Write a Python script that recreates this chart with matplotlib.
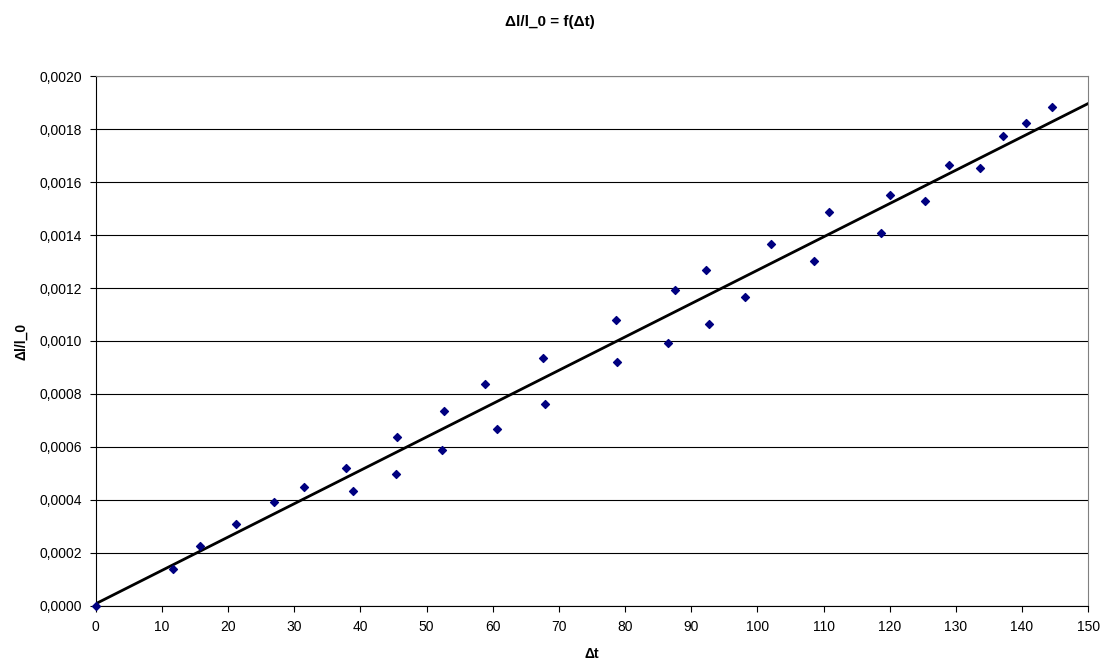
import numpy as np
import matplotlib.pyplot as plt
from matplotlib.ticker import FuncFormatter, MultipleLocator

plt.rcParams['font.family'] = ['Liberation Sans', 'DejaVu Sans']

# Measured points
dt = [0, 11.7, 15.8, 21.2, 26.9, 31.5, 37.8, 38.9, 45.4, 45.6, 52.4, 52.7, 58.9,
      60.7, 67.6, 67.9, 78.6, 78.8, 86.5, 87.6, 92.3, 92.7, 98.1, 102.1, 108.6,
      110.9, 118.7, 120.0, 125.4, 129.0, 133.7, 137.1, 140.6, 144.6]
dl = [0.0, 0.000140, 0.000227, 0.000308, 0.000393, 0.000448, 0.000520, 0.000433,
      0.000498, 0.000637, 0.000587, 0.000736, 0.000836, 0.000669, 0.000936,
      0.000763, 0.001079, 0.000921, 0.000994, 0.001193, 0.001268, 0.001065,
      0.001165, 0.001368, 0.001301, 0.001486, 0.001409, 0.001553, 0.001530,
      0.001665, 0.001652, 0.001773, 0.001824, 0.001883]

# linear trend line
k, b = np.polyfit(dt, dl, 1)
xl = np.array([0, 150])

fig = plt.figure(figsize=(11.07, 6.63), dpi=100)
ax = fig.add_axes([0.0865, 0.0864, 0.8965, 0.7986])

ax.plot(xl, k * xl + b, color='black', lw=2, zorder=2)
ax.scatter(dt, dl, marker='D', s=16, color='#000080', zorder=3, clip_on=False)

ax.set_xlim(0, 150)
ax.set_ylim(0, 0.002)
ax.xaxis.set_major_locator(MultipleLocator(10))
ax.yaxis.set_major_locator(MultipleLocator(0.0002))
ax.yaxis.set_major_formatter(FuncFormatter(lambda v, p: f'{v:.4f}'.replace('.', ',')))
ax.grid(axis='y', color='black', lw=0.8)
ax.set_axisbelow(True)

for s in ['top', 'right']:
    ax.spines[s].set_color('#808080')
for s in ['left', 'bottom']:
    ax.spines[s].set_color('black')
ax.tick_params(direction='out', length=4, labelsize=10, pad=6)

ax.set_xlabel('Δt', fontsize=10, fontweight='bold', labelpad=10)
ax.set_ylabel('Δl/l_0', fontsize=10, fontweight='bold', labelpad=8)
fig.suptitle('Δl/l_0 = f(Δt)', fontsize=11, fontweight='bold', x=0.497, y=0.978)

fig.savefig('out.png', dpi=100)
